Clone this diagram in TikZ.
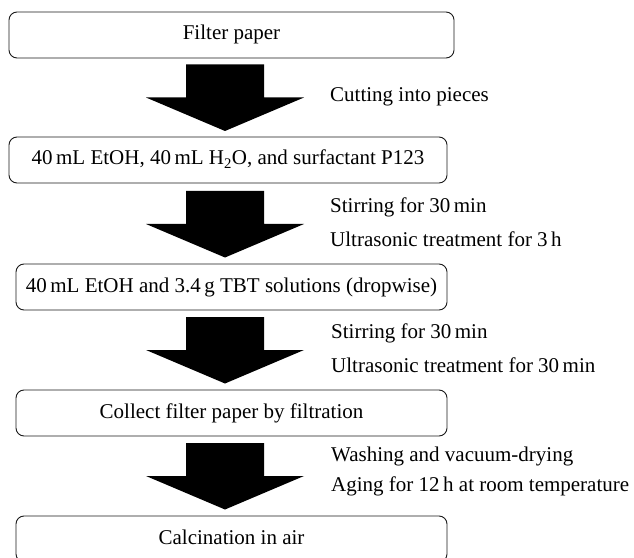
\documentclass[tikz,border=0pt]{standalone}
\usepackage{fontspec}
\setmainfont{Liberation Serif}
\begin{document}
\begin{tikzpicture}[x=1bp,y=-1bp,
  stepbox/.style={draw=black!90, line width=0.9bp, rounded corners=8bp, inner sep=0pt,
    font=\fontsize{21bp}{25bp}\selectfont, text height=14bp, text depth=4bp,
    minimum height=46bp, align=center},
  lbl/.style={font=\fontsize{21bp}{25bp}\selectfont, inner sep=0pt, anchor=base west},
  fatarrow/.pic={\fill[black] (-39,0) -- (39,0) -- (39,33) -- (79,33) -- (0,66.5) -- (-79,33) -- (-39,33) -- cycle;}]
\path[use as bounding box, clip] (0,0) rectangle (634,558);
% boxes
\node[stepbox, minimum width=445bp] (b1) at (231.5,35) {Filter paper};
\node[stepbox, minimum width=438bp] (b2) at (228,160) {40\,mL EtOH, 40\,mL H\textsubscript{2}O, and surfactant P123};
\node[stepbox, minimum width=431bp] (b3) at (231.5,287) {40\,mL EtOH and 3.4\,g TBT solutions (dropwise)};
\node[stepbox, minimum width=431bp] (b4) at (231.5,413) {Collect filter paper by filtration};
\node[stepbox, minimum width=431bp] (b5) at (231.5,539) {Calcination in air};
% block arrows
\pic (a1) at (225,64.5) {fatarrow};
\pic (a2) at (225,191) {fatarrow};
\pic (a3) at (225,317) {fatarrow};
\pic (a4) at (225,443) {fatarrow};
% step labels
\node[lbl] (t1) at (330,102) {Cutting into pieces};
\node[lbl] (t2a) at (330,213) {Stirring for 30\,min};
\node[lbl] (t2b) at (330,247) {Ultrasonic treatment for 3\,h};
\node[lbl] (t3a) at (331,338) {Stirring for 30\,min};
\node[lbl] (t3b) at (331,372) {Ultrasonic treatment for 30\,min};
\node[lbl] (t4a) at (331,461) {Washing and vacuum-drying};
\node[lbl] (t4b) at (331,491) {Aging for 12\,h at room temperature};
\end{tikzpicture}
\end{document}
